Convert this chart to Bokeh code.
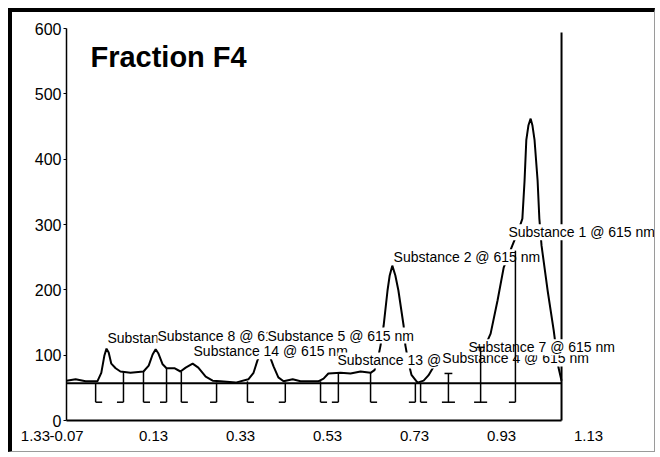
from bokeh.plotting import figure
from bokeh.models import Range1d, FixedTicker, PrintfTickFormatter, Label
from bokeh.embed import file_html
from bokeh.resources import INLINE

FONT = "Liberation Sans"

# ---- data -------------------------------------------------------------
x_ticks = [-0.1413, -0.07, 0.13, 0.33, 0.53, 0.73, 0.93, 1.13]
x_tick_overrides = {-0.1413: "1.33"}
y_ticks = [0, 100, 200, 300, 400, 500, 600]
x_origin = -0.07

# chromatogram trace (Rf / absorbance units)
rt = [-0.070, -0.049, -0.026, 0.001, 0.010, 0.017, 0.022, 0.027, 0.033, 0.043,
      0.054, 0.077, 0.107, 0.119, 0.128, 0.135, 0.141, 0.151, 0.160, 0.178,
      0.192, 0.204, 0.220, 0.233, 0.250, 0.266, 0.284, 0.319, 0.348, 0.360,
      0.369, 0.378, 0.387, 0.397, 0.406, 0.417, 0.429, 0.450, 0.468, 0.509,
      0.521, 0.532, 0.560, 0.583, 0.606, 0.629, 0.638, 0.645, 0.652, 0.659,
      0.668, 0.673, 0.679, 0.686, 0.693, 0.705, 0.709, 0.716, 0.723, 0.737,
      0.751, 0.762, 0.778, 0.790, 0.804, 0.822, 0.840, 0.859, 0.877, 0.893,
      0.905, 0.921, 0.935, 0.955, 0.969, 0.978, 0.983, 0.987, 0.992, 0.997,
      1.001, 1.006, 1.013, 1.017, 1.022, 1.036, 1.050, 1.061, 1.068]
signal = [61, 63, 60, 60, 73, 99, 110, 104, 87, 80,
          75, 73, 75, 84, 101, 109, 103, 86, 80, 80,
          75, 81, 87, 81, 67, 61, 60, 58, 63, 73,
          92, 104, 107, 99, 83, 66, 60, 63, 60, 60,
          64, 72, 73, 72, 75, 73, 77, 92, 115, 145,
          199, 222, 237, 222, 199, 145, 115, 89, 70, 58,
          61, 69, 87, 98, 100, 96, 100, 105, 110, 115,
          133, 184, 234, 268, 291, 309, 367, 429, 452, 462,
          452, 429, 367, 309, 268, 199, 138, 81, 61]

baseline_level = 57
trace_end = 1.068

# integration markers
marker_rt = [-0.003, 0.061, 0.107, 0.160, 0.194, 0.275, 0.346, 0.433,
             0.514, 0.555, 0.629, 0.732, 0.744, 0.808, 0.882, 0.962]
marker_top = [57, 74, 75, 80, 75, 58, 60, 58, 60, 73, 74, 57, 57, 72, 112, 260]
marker_kind = ["start", "end", "start", "end", "start", "end", "start", "end",
               "start", "end", "start", "end", "start", "both", "both", "end"]
marker_bottom = 28

# peak labels (drawn in this order)
sub_names = ["Substance 10 @ 615 nm", "Substance 8 @ 615 nm", "Substance 14 @ 615 nm",
             "Substance 5 @ 615 nm", "Substance 2 @ 615 nm", "Substance 1 @ 615 nm",
             "Substance 13 @ 615 nm", "Substance 4 @ 615 nm", "Substance 7 @ 615 nm"]
sub_rt = [0.024, 0.139, 0.222, 0.392, 0.682, 0.946, 0.553, 0.794, 0.854]
sub_y = [127, 129, 106, 130, 250, 288, 92, 95, 112]

title_text = "Fraction F4"

# ---- figure -----------------------------------------------------------
p = figure(width=647, height=444, output_backend="svg", toolbar_location=None,
           x_range=Range1d(-0.1941, 1.2932), y_range=Range1d(-55.1, 624.5),
           min_border_left=0, min_border_right=0, min_border_top=0,
           min_border_bottom=0)
p.styles = {"margin-left": "8px", "margin-top": "8px",
            "border-top": "4px solid black", "border-left": "4px solid black",
            "border-right": "1px solid #9a9a9a", "border-bottom": "1px solid #9a9a9a"}
p.outline_line_color = None
p.xgrid.visible = False
p.ygrid.visible = False
p.background_fill_color = "white"
p.border_fill_color = "white"

# x axis pinned at y = 0
xa = p.xaxis[0]
xa.fixed_location = 0
xa.ticker = FixedTicker(ticks=x_ticks)
xa.formatter = PrintfTickFormatter(format="%.2f")
xa.major_label_overrides = x_tick_overrides
xa.axis_line_color = None
xa.major_tick_line_color = None
xa.minor_tick_line_color = None
xa.major_tick_out = 0
xa.major_tick_in = 0
xa.major_label_standoff = 10
xa.major_label_text_font = FONT
xa.major_label_text_font_size = "15px"
xa.major_label_text_color = "black"

# y axis pinned at the first x tick
ya = p.yaxis[0]
ya.fixed_location = x_origin
ya.bounds = (y_ticks[0], y_ticks[-1])
ya.ticker = FixedTicker(ticks=y_ticks)
ya.axis_line_color = "black"
ya.axis_line_width = 1.5
ya.major_tick_line_color = "black"
ya.major_tick_out = 3
ya.major_tick_in = 0
ya.minor_tick_line_color = None
ya.major_label_standoff = 2
ya.major_label_text_font = FONT
ya.major_label_text_font_size = "16px"
ya.major_label_text_color = "black"

# frame lines (bottom and right)
p.segment(x0=[x_origin, trace_end], y0=[0, 0], x1=[trace_end, trace_end], y1=[0, 594],
          line_color="black", line_width=2)

# baseline
p.segment(x0=[x_origin], y0=[baseline_level], x1=[trace_end], y1=[baseline_level],
          line_color="black", line_width=2)

# trace
p.line(rt, signal, line_color="black", line_width=2)

# markers
foot = 0.015
serif = 0.009
vx0, vy0, vx1, vy1 = [], [], [], []
fx0, fy0, fx1, fy1 = [], [], [], []
for x, top, kind in zip(marker_rt, marker_top, marker_kind):
    vx0.append(x); vy0.append(marker_bottom); vx1.append(x); vy1.append(top)
    if kind == "start":
        fx0.append(x); fx1.append(x + foot); fy0.append(marker_bottom); fy1.append(marker_bottom)
    elif kind == "end":
        fx0.append(x - foot); fx1.append(x); fy0.append(marker_bottom); fy1.append(marker_bottom)
    else:
        fx0.append(x - foot); fx1.append(x + foot); fy0.append(marker_bottom); fy1.append(marker_bottom)
        fx0.append(x - serif); fx1.append(x + serif); fy0.append(top); fy1.append(top)
p.segment(x0=vx0, y0=vy0, x1=vx1, y1=vy1, line_color="black", line_width=1.5, level="overlay")
p.segment(x0=fx0, y0=fy0, x1=fx1, y1=fy1, line_color="black", line_width=1.5, level="overlay")

# peak labels with white boxes
for name, x, y in zip(sub_names, sub_rt, sub_y):
    p.add_layout(Label(x=x, y=y, text=name, text_font=FONT, text_font_size="14px",
                       text_color="black", text_align="left", text_baseline="middle",
                       background_fill_color="white"))

# title inside the plot
p.add_layout(Label(x=-0.015, y=556, text=title_text, text_font=FONT,
                   text_font_size="29px", text_font_style="bold", text_color="black",
                   text_align="left", text_baseline="alphabetic"))

open("out.html", "w").write(file_html(p, INLINE))
